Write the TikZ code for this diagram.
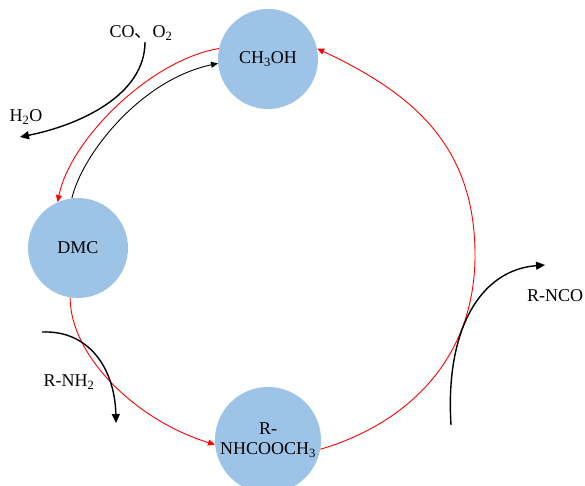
\documentclass[tikz,border=0pt]{standalone}
\usepackage{fontspec}
\setmainfont{Liberation Serif}
\newfontfamily\cjk{Noto Sans CJK SC}
\usetikzlibrary{arrows.meta}
\definecolor{molblue}{HTML}{9DC3E6}

\begin{document}
\begin{tikzpicture}[x=1pt,y=-1pt,
    mol/.style={circle, fill=molblue, inner sep=0pt, align=center, font=\fontsize{18}{20}\selectfont},
    lbl/.style={font=\fontsize{18}{20}\selectfont, inner sep=0pt},
    redarc/.style={red, line width=0.9pt, -{Triangle[length=7pt,width=6pt]}},
    blackarc/.style={black, line width=1.4pt, -{Triangle[length=9pt,width=8pt]}}]
    \useasboundingbox (0,0) rectangle (585,486);

    % Molecules
    \node[mol, minimum size=100pt] (ch) at (268,59) {CH\textsubscript{3}OH};
    \node[mol, minimum size=100pt] (dmc) at (78,248) {DMC};
    \node[mol, minimum size=106pt] (nh) at (268,440) {R-\\NHCOOCH\textsubscript{3}};

    % Cycle
    \draw[redarc] (ch.168) .. controls (150,60) and (70,140) .. (dmc.114);
    \draw[blackarc, line width=0.9pt, -{Triangle[length=7pt,width=6pt]}] (dmc.97) .. controls (82,155) and (140,80) .. (ch.185);
    \draw[redarc] (dmc.261) .. controls (70,355) and (135,420) .. (nh.185);
    \draw[redarc] (nh.-10) .. controls (400,426) and (475,365) .. (475,255)
        .. controls (475,145) and (412,93) .. (ch.12);

    % Side streams
    \node[lbl] (gas) at (141,33) {CO{\cjk 、}O\textsubscript{2}};
    \node[lbl] (water) at (26,117) {H\textsubscript{2}O};
    \node[lbl] (amine) at (69,382) {R-NH\textsubscript{2}};
    \node[lbl] (nco) at (555,296) {R-NCO};

    \coordinate (gasin) at (145,42);
    \coordinate (waterout) at (20,137);
    \coordinate (aminein) at (42,332);
    \coordinate (amineout) at (116,423);
    \coordinate (ncoin) at (451,425);
    \coordinate (ncoout) at (545,265);

    \draw[blackarc] (gasin) .. controls (145,95) and (80,125) .. (waterout);
    \draw[blackarc] (aminein) .. controls (90,330) and (115,370) .. (amineout);
    \draw[blackarc] (ncoin) .. controls (445,330) and (480,270) .. (ncoout);
\end{tikzpicture}
\end{document}
